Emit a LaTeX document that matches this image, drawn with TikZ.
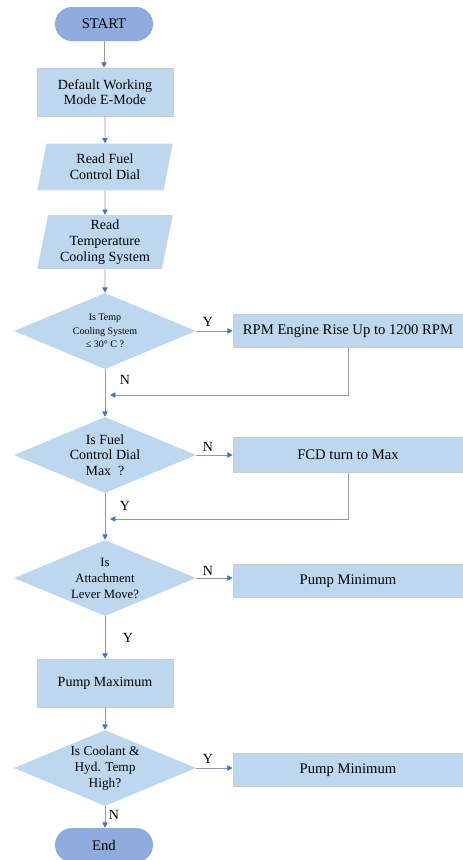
\documentclass[tikz,border=0pt]{standalone}
\usepackage{fontspec}
\setmainfont{Liberation Serif}
\usetikzlibrary{arrows.meta,shapes.geometric,positioning,calc}
\definecolor{boxblue}{HTML}{BDD7EE}
\definecolor{termblue}{HTML}{8FAADC}
\definecolor{linegray}{HTML}{8A9AB8}
\definecolor{tipblue}{HTML}{4472C4}

\begin{document}
\begin{tikzpicture}[x=0.75pt, y=-0.75pt,
    term/.style={rectangle, rounded corners=12.7pt, fill=termblue, minimum width=73.5pt, minimum height=25.5pt, font=\fontsize{11}{13}\selectfont},
    proc/.style={rectangle, fill=boxblue, draw=gray!40, line width=0.5pt, minimum width=102pt, minimum height=36pt, align=center, font=\fontsize{10.5}{11.5}\selectfont},
    io/.style={trapezium, trapezium left angle=80, trapezium right angle=100, trapezium stretches=true, fill=boxblue, minimum width=102pt, minimum height=35pt, align=center, font=\fontsize{10.5}{12}\selectfont},
    dec/.style={diamond, aspect=2.4, inner sep=0pt, fill=boxblue, minimum width=136.5pt, minimum height=57pt, align=center},
    act/.style={rectangle, fill=boxblue, draw=gray!40, line width=0.5pt, minimum width=172.5pt, minimum height=25pt, font=\fontsize{11}{13}\selectfont},
    arr/.style={draw=linegray, line width=0.6pt, -{Triangle[length=4pt, width=4pt, color=tipblue]}},
    yn/.style={font=\fontsize{10.5}{12}\selectfont}]
    \useasboundingbox (0,0) rectangle (463,860);

    % Main column
    \node[term] (start) at (104, 24) {START};
    \node[proc] (mode) at (105, 92) {Default Working\\Mode E-Mode};
    \node[io] (read1) at (105, 167) {Read Fuel\\Control Dial};
    \node[io] (read2) at (105, 242) {Read\\Temperature\\Cooling System};
    \node[dec, font=\fontsize{7.5}{10}\selectfont] (d1) at (105, 331) {Is Temp\\Cooling System\\≤ 30° C ?};
    \node[dec, font=\fontsize{10.5}{11.6}\selectfont] (d2) at (105, 455) {Is Fuel\\Control Dial\\Max\ \ ?};
    \node[dec, font=\fontsize{9.5}{12}\selectfont] (d3) at (105, 578) {Is\\Attachment\\Lever Move?};
    \node[proc] (pmax) at (105, 683) {Pump Maximum};
    \node[dec, font=\fontsize{10}{12}\selectfont] (d4) at (105, 768) {Is Coolant \&\\Hyd. Temp\\High?};
    \node[term] (stop) at (104, 845) {End};

    % Side actions
    \node[act] (rpm) at (348, 331) {RPM Engine Rise Up to 1200 RPM};
    \node[act, minimum height=26pt] (fcd) at (348, 455) {FCD turn to Max};
    \node[act] (pmin1) at (348, 581) {Pump Minimum};
    \node[act] (pmin2) at (348, 770) {Pump Minimum};

    \coordinate (m1) at (110, 395);
    \coordinate (m2) at (110, 519);

    % Connectors
    \draw[arr] (start) -- (start |- mode.north);
    \draw[arr] (mode) -- (read1);
    \draw[arr] (read1) -- (read2);
    \draw[arr] (read2) -- (d1);
    \draw[arr] (d1) -- (rpm);
    \draw[arr] (rpm.south) |- (m1);
    \draw[arr] (d1) -- (d2);
    \draw[arr] (d2) -- (fcd);
    \draw[arr] (fcd.south) |- (m2);
    \draw[arr] (d2) -- (d3);
    \draw[arr] (d3.east) -- (d3.east -| pmin1.west);
    \draw[arr] (d3) -- (pmax);
    \draw[arr] (pmax) -- (d4);
    \draw[arr] (d4.east) -- (d4.east -| pmin2.west);
    \draw[arr] (d4) -- (d4 |- stop.north);

    % Y / N labels
    \node[yn] (y1) at (208, 322) {Y};
    \node[yn] (n1) at (125, 380) {N};
    \node[yn] (n2) at (208, 447) {N};
    \node[yn] (y2) at (125, 506) {Y};
    \node[yn] (n3) at (208, 571) {N};
    \node[yn] (y3) at (128, 638) {Y};
    \node[yn] (y4) at (208, 759) {Y};
    \node[yn] (n4) at (114, 815) {N};
\end{tikzpicture}
\end{document}
